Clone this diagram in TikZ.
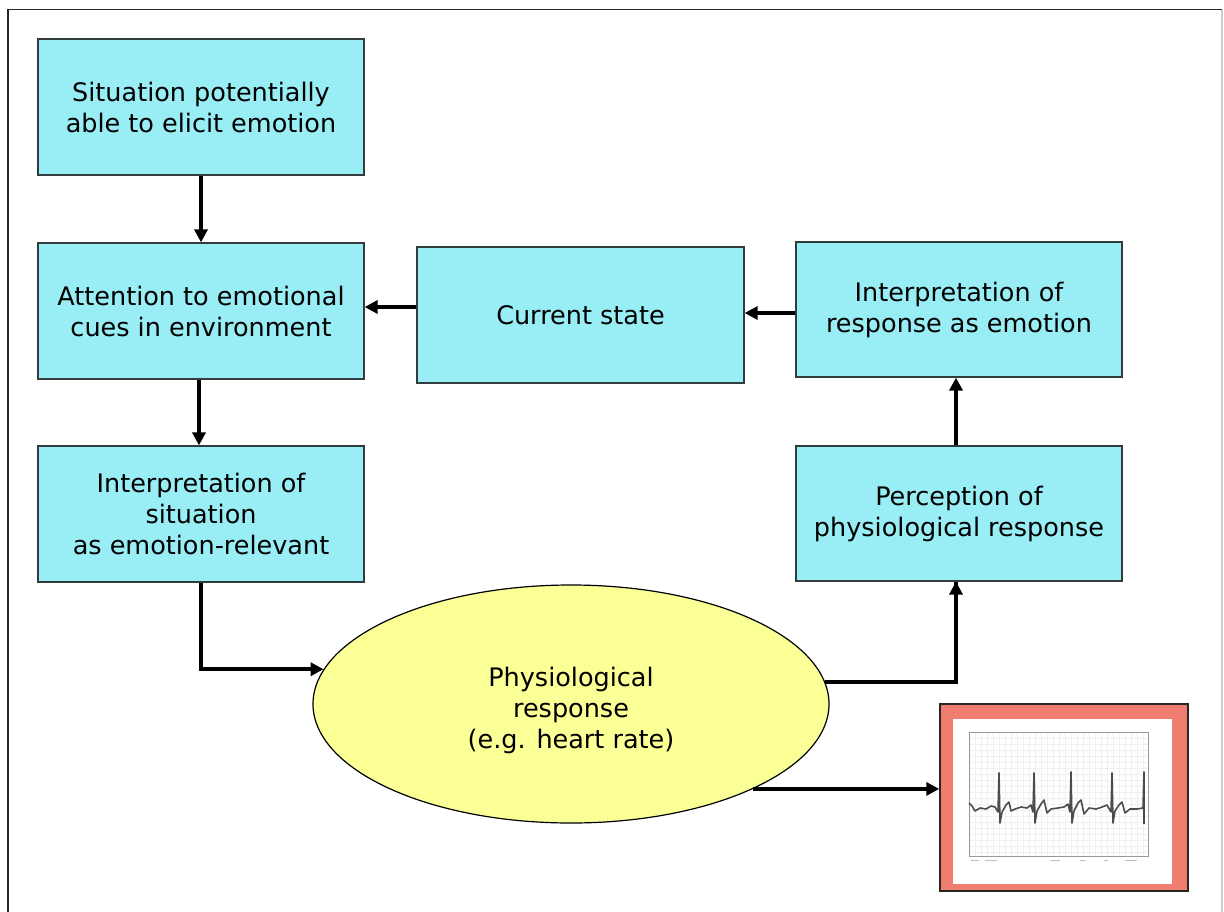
\documentclass[tikz,border=0pt]{standalone}
\usepackage{fontspec}
\setmainfont{DejaVu Sans}
\usetikzlibrary{shapes.geometric,arrows.meta,calc}
\definecolor{boxcyan}{RGB}{152,238,244}
\definecolor{ellyellow}{RGB}{250,255,150}
\definecolor{salmon}{RGB}{240,126,112}
\definecolor{edge}{RGB}{50,60,60}
\begin{document}
\begin{tikzpicture}[x=1pt,y=-1pt,
  txt/.style={align=center,inner sep=0pt,font=\fontsize{25.5}{31}\selectfont},
  box/.style={txt,draw=edge,line width=1.2pt,fill=boxcyan,minimum width=326pt,minimum height=136pt},
  ell/.style={ellipse,draw=black,line width=1.2pt,fill=ellyellow,minimum width=516pt,minimum height=238pt,inner sep=0pt},
  arr/.style={line width=3.6pt,-{Triangle[length=13pt,width=13pt]}},
  seg/.style={line width=3.6pt}]
\useasboundingbox (0,0) rectangle (1224,911);
% frame
\draw[line width=1.5pt,black!85] (8,915) -- (8,9.5) -- (1222,9.5);
\draw[line width=1.5pt,black!20] (1222,9.5) -- (1222,915);
% nodes
\node[box] (b1) at (201,107) {Situation potentially\\able to elicit emotion};
\node[box] (b2) at (201,311) {Attention to emotional\\cues in environment};
\node[box] (b3) at (201,514) {Interpretation of\\situation\\as emotion-relevant};
\node[box,minimum width=327pt] (cur) at (580.5,315) {Current state};
\node[box,minimum height=135pt] (int) at (959,309.5) {Interpretation of\\response as emotion};
\node[box,minimum height=135pt] (per) at (959,513.5) {Perception of\\physiological response};
\node[ell] (ell) at (571,704) {};
\node[txt] (elltext) at (571,710) {Physiological\\response\\(e.g. heart rate)};
% ecg picture
\node[draw=black!85,line width=1.5pt,fill=salmon,minimum width=248pt,minimum height=187pt,inner sep=0pt] (ecg) at (1064,797.5) {};
\fill[white] (953,719) rectangle (1172,884);
\foreach \gx in {975,981,...,1145} \draw[black!6,line width=0.4pt] (\gx,732) -- (\gx,856);
\foreach \gy in {738,744,...,852} \draw[black!6,line width=0.4pt] (969,\gy) -- (1148,\gy);
\draw[black!40,line width=0.8pt] (969,732) rectangle (1148,856);
\draw[black!70,line width=1.6pt,line join=round]
  (969,803) -- (972,806) -- (975,811) -- (980,808) -- (986,809) -- (991,806) -- (995,807) -- (998,812)
  -- (999,773) -- (1000,823) -- (1002,812) -- (1006,805) -- (1009,802) -- (1011,811) -- (1015,809) -- (1021,807) -- (1027,808) -- (1031,805) -- (1033,812)
  -- (1034,773) -- (1035,823) -- (1037,811) -- (1041,804) -- (1044,800) -- (1047,813) -- (1051,809) -- (1058,808) -- (1064,807) -- (1068,804) -- (1070,812)
  -- (1071,772) -- (1072,823) -- (1074,811) -- (1078,803) -- (1081,800) -- (1084,814) -- (1089,808) -- (1096,809) -- (1102,807) -- (1107,805) -- (1111,812)
  -- (1112,773) -- (1113,823) -- (1115,811) -- (1119,805) -- (1122,802) -- (1125,813) -- (1130,809) -- (1137,809) -- (1143,808)
  -- (1144,772) -- (1144,824);
\foreach \tx/\tw in {971/8,985/12,1050/10,1080/6,1104/4,1125/12} \draw[black!25,line width=0.8pt] (\tx,860) -- ++(\tw,0);
% connectors
\draw[arr] (b1.south) -- (b2.north);
\draw[arr] ([xshift=-2pt]b2.south) -- ([xshift=-2pt]b3.north);
\draw[arr] (cur.west |- 0,307) -- (b2.east |- 0,307);
\draw[arr] (int.west |- 0,313) -- (cur.east |- 0,313);
\draw[arr] ([xshift=-3pt]per.north) -- ([xshift=-3pt]int.south);
\draw[arr] (b3.south) |- (ell.172);
\draw[seg] (ell.5) -| ([xshift=-3pt]per.south);
\draw[arr] ([xshift=-3pt]per.south |- ell.5) -- ([xshift=-3pt]per.south);
\draw[arr] (ell.-25) -- (ecg.west |- ell.-25);
\end{tikzpicture}
\end{document}
